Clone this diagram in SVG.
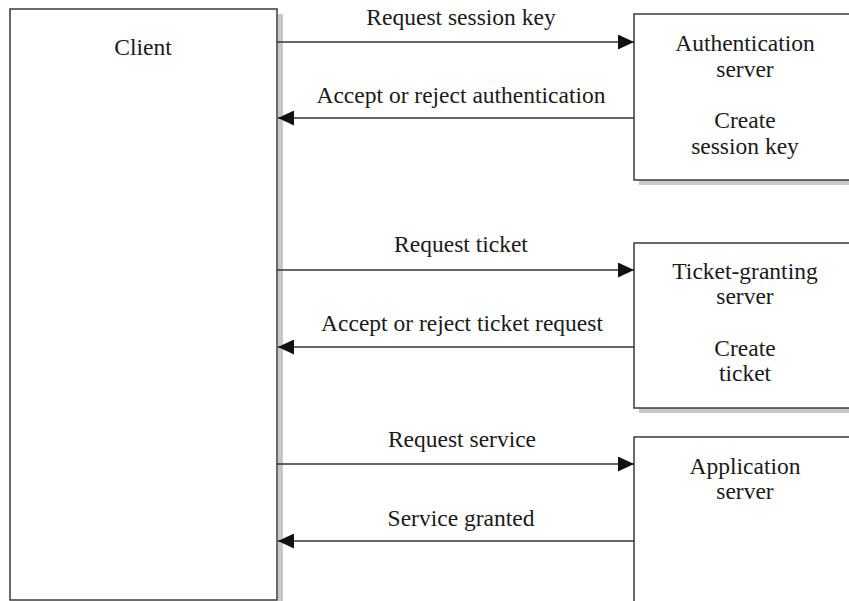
<svg xmlns="http://www.w3.org/2000/svg" width="849" height="601" viewBox="0 0 849 601">
<style>
.box{fill:#fff;stroke:#3a3a3a;stroke-width:1.5}
.shadow{fill:#c8c8c8;stroke:none}
.lbl{font-family:"Liberation Serif","Times New Roman",serif;font-size:23.5px;fill:#1a1a1a;text-anchor:middle}
.conn{stroke:#333;stroke-width:1.5;fill:none}
</style>
<defs>
<marker id="ah" viewBox="0 0 16 15" refX="16" refY="7.5" markerWidth="16" markerHeight="15" markerUnits="userSpaceOnUse" orient="auto">
<path d="M0,0 L16,7.5 L0,15 Z" fill="#111"/>
</marker>
</defs>
<rect width="849" height="601" fill="#fff"/>
<g id="client">
<rect class="shadow" x="278" y="14" width="5" height="587"/>
<rect class="box" x="10" y="9" width="267" height="591"/>
<text class="lbl" x="143" y="55">Client</text>
</g>
<g id="auth-server">
<rect class="shadow" x="639" y="180" width="215" height="5"/>
<rect class="box" x="634" y="14" width="230" height="166"/>
<text class="lbl" x="745" y="51">Authentication</text>
<text class="lbl" x="745" y="77">server</text>
<text class="lbl" x="745" y="128">Create</text>
<text class="lbl" x="745" y="154">session key</text>
</g>
<g id="tgs-server">
<rect class="shadow" x="639" y="408" width="215" height="5"/>
<rect class="box" x="634" y="243" width="230" height="165"/>
<text class="lbl" x="745" y="279">Ticket-granting</text>
<text class="lbl" x="745" y="304">server</text>
<text class="lbl" x="745" y="356">Create</text>
<text class="lbl" x="745" y="381">ticket</text>
</g>
<g id="app-server">
<rect class="box" x="634" y="437" width="230" height="180"/>
<text class="lbl" x="745" y="474">Application</text>
<text class="lbl" x="745" y="499">server</text>
</g>
<g id="connectors">
<line class="conn" x1="277" y1="42" x2="634" y2="42" marker-end="url(#ah)"/>
<line class="conn" x1="634" y1="118" x2="278" y2="118" marker-end="url(#ah)"/>
<line class="conn" x1="277" y1="270" x2="634" y2="270" marker-end="url(#ah)"/>
<line class="conn" x1="634" y1="347" x2="278" y2="347" marker-end="url(#ah)"/>
<line class="conn" x1="277" y1="464" x2="634" y2="464" marker-end="url(#ah)"/>
<line class="conn" x1="634" y1="541" x2="278" y2="541" marker-end="url(#ah)"/>
<text class="lbl" x="461" y="25">Request session key</text>
<text class="lbl" x="461" y="103">Accept or reject authentication</text>
<text class="lbl" x="461" y="252">Request ticket</text>
<text class="lbl" x="462" y="331">Accept or reject ticket request</text>
<text class="lbl" x="462" y="447">Request service</text>
<text class="lbl" x="461" y="526">Service granted</text>
</g>
</svg>
